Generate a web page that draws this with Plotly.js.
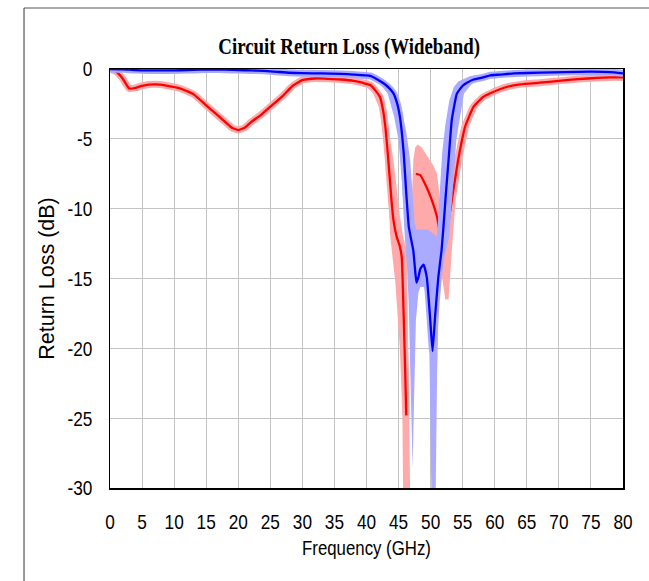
<!DOCTYPE html>
<html>
<head>
<meta charset="utf-8">
<script src="https://cdn.plot.ly/plotly-3.0.1.min.js"></script>
<style>
  html, body { margin: 0; padding: 0; background: #ffffff; }
  #chart { width: 649px; height: 581px; }
</style>
</head>
<body>
<div id="chart"></div>
<script>
// ---------- Data ----------
// Nominal red response
const redFreq = [0, 1, 2, 3, 4, 5, 7, 9, 11, 13, 15, 17, 18, 19, 20, 21, 22, 23.5, 25, 27, 28.5, 30, 32, 34, 36, 38, 39.5,
  40.6, 41.5, 42.1, 42.6, 43.0, 43.4, 43.9, 44.2, 44.7, 45.2, 45.5, 45.8, 46.0, 46.2, 46.3,
  47.7, 48.4, 49.1, 49.6, 50.2, 51.0, 51.7, 52.0, 52.5, 53.3, 54.3, 55.4, 56.7, 58.2, 59.3, 60.8,
  62, 64, 67, 70, 73, 76, 78, 80];
const redDb = [0, -0.2, -0.7, -1.4, -1.35, -1.2, -1.1, -1.2, -1.4, -1.8, -2.6, -3.4, -3.8, -4.2, -4.37, -4.2, -3.8, -3.3, -2.7, -1.9, -1.2, -0.8, -0.68, -0.7, -0.75, -0.85, -1.0,
  -1.15, -1.6, -2.0, -3.0, -4.4, -6.5, -9.4, -10.8, -12.0, -12.7, -13.5, -17.7, -21, -24.8, null,
  -7.5, -7.6, -8.2, -8.7, -9.4, -10.6, -12.5, -13.2, -11.8, -9.4, -6.5, -4.1, -2.7, -2.0, -1.74, -1.45,
  -1.27, -1.1, -0.98, -0.85, -0.72, -0.64, -0.6, -0.6];

// Nominal blue response
const blueFreq = [0, 2, 4, 6, 8, 10, 12, 14, 16, 18, 20, 22, 24, 26, 28, 30, 33, 36, 38,
  40.6, 41.7, 42.6, 43.5, 44.2, 44.8, 45.2, 45.5, 45.8, 46.2, 46.6, 47.0, 47.3, 47.6, 47.8, 48.1, 48.4, 48.9, 49.4, 49.9,
  50.3, 50.7, 51.2, 51.7, 52.0, 52.4, 52.8, 53.3, 54.1, 55.0, 55.6, 56.7, 58.2, 59.3, 60.8, 63, 67, 71, 75, 78, 80];
const blueDb = [0, -0.02, -0.08, -0.1, -0.1, -0.1, -0.08, -0.05, -0.03, -0.05, -0.08, -0.1, -0.13, -0.2, -0.27, -0.3, -0.32, -0.35, -0.4,
  -0.5, -0.75, -1.0, -1.35, -1.75, -2.5, -3.4, -4.5, -6.0, -8.9, -11.3, -12.3, -13.0, -14.5, -15.3, -14.9, -14.3, -14.0, -14.9, -17.7,
  -20.2, -17.7, -14.9, -13.0, -11.3, -8.8, -6.5, -3.65, -1.75, -1.2, -1.0, -0.75, -0.6, -0.45, -0.4, -0.32, -0.26, -0.22, -0.19, -0.22, -0.31];

// Red Monte-Carlo spread: upper and lower envelopes
const redUpFreq = [36, 40, 41, 42, 42.8, 43.4, 44.2, 44.8, 45.2, 45.7, 46.0, 46.3, 46.5, 46.7, 46.8, 46.85, 47.3, 47.6, 48.0, 48.6,
  49.6, 50.4, 51.0, 51.4, 51.7, 52.2, 52.7, 53.7, 54.8, 56.1, 57.6, 60, 63];
const redUpDb = [-0.65, -0.85, -1.1, -1.5, -2.5, -4.1, -6.5, -8.9, -10.5, -12, -12.5, -13, -20, -28, -30, -12, -6.5, -5.6, -5.4, -5.6,
  -6.3, -6.9, -7.5, -9.0, -10.6, -11.5, -9.4, -6.5, -4.1, -2.7, -2.0, -1.3, -1.05];
const redLoFreq = [36, 40, 41, 42, 42.4, 43.0, 43.4, 43.7, 44.5, 45.2, 45.6, 45.7, 46.8, 46.85, 47.3, 48.2, 49.0, 49.8, 50.5, 51.2,
  51.8, 52.3, 52.8, 53.3, 53.9, 54.9, 56.0, 57.3, 58.8, 61, 63];
const redLoDb = [-0.9, -1.3, -1.7, -2.8, -4.1, -6.5, -8.9, -12, -15.3, -20, -24.8, -30, -30, -12, -12, -12, -12, -12, -12.2, -12.8,
  -15, -16.5, -16.5, -13, -9.4, -6.5, -4.1, -2.7, -2.0, -1.5, -1.25];

// Blue Monte-Carlo spread: upper and lower envelopes
const blueUpFreq = [38, 40, 41.2, 43.0, 44.6, 45.3, 46.2, 46.8, 47.2, 47.5, 47.8, 48.5, 49.5, 50.5, 51.0, 51.4, 51.8, 52.3, 52.9, 53.6, 54.3, 56.2, 60];
const blueUpDb = [-0.3, -0.35, -0.5, -0.9, -1.75, -2.5, -4.5, -6.5, -9, -11, -11.5, -11.5, -11.5, -11.8, -12, -9, -6, -4, -2.3, -1.3, -0.9, -0.5, -0.3];
const blueLoFreq = [38, 40, 42, 43.3, 44.3, 45.0, 45.5, 45.9, 46.3, 46.6, 46.9, 47.2, 47.4, 47.7, 48.1, 48.4, 49.0, 49.5, 49.8, 50.1,
  50.8, 51.0, 51.3, 51.7, 52.3, 52.9, 53.4, 54.0, 54.6, 55.2, 56.5, 59.3, 62];
const blueLoDb = [-0.5, -0.6, -1.0, -1.75, -3.4, -5.1, -8, -11.5, -14, -17, -23, -28.6, -24, -18, -16, -15.6, -15.6, -16.5, -20, -30,
  -30, -22, -16, -14.3, -13.2, -12, -9, -5.1, -3.4, -1.75, -1.0, -0.5, -0.35];

// Axis ticks
const xTicks = [0, 5, 10, 15, 20, 25, 30, 35, 40, 45, 50, 55, 60, 65, 70, 75, 80];
const yTicks = [0, -5, -10, -15, -20, -25, -30];

// ---------- Build traces ----------
function bandPolygon(upF, upY, loF, loY) {
  return {
    x: upF.concat(loF.slice().reverse()),
    y: upY.concat(loY.slice().reverse())
  };
}
const redBand = bandPolygon(redUpFreq, redUpDb, redLoFreq, redLoDb);
const blueBand = bandPolygon(blueUpFreq, blueUpDb, blueLoFreq, blueLoDb);

const RED = '#ff0000', RED_LIGHT = '#ffaaaa';
const BLUE = '#0000ff', BLUE_LIGHT = '#aaaaff';

const traces = [
  { x: redFreq, y: redDb, mode: 'lines', line: { color: RED_LIGHT, width: 7, shape: 'spline', smoothing: 0.4 }, hoverinfo: 'skip', showlegend: false },
  { x: redBand.x, y: redBand.y, mode: 'lines', fill: 'toself', fillcolor: RED_LIGHT, line: { width: 0, color: RED_LIGHT }, hoverinfo: 'skip', showlegend: false },
  { x: redFreq, y: redDb, mode: 'lines', line: { color: RED, width: 2.3, shape: 'spline', smoothing: 0.4 }, name: 'Red', showlegend: false },
  { x: blueFreq, y: blueDb, mode: 'lines', line: { color: BLUE_LIGHT, width: 7, shape: 'spline', smoothing: 0.4 }, hoverinfo: 'skip', showlegend: false },
  { x: blueBand.x, y: blueBand.y, mode: 'lines', fill: 'toself', fillcolor: BLUE_LIGHT, line: { width: 0, color: BLUE_LIGHT }, hoverinfo: 'skip', showlegend: false },
  { x: blueFreq, y: blueDb, mode: 'lines', line: { color: BLUE, width: 2.3, shape: 'spline', smoothing: 0.4 }, name: 'Blue', showlegend: false }
];

const SANS = '"Liberation Sans", Arial, sans-serif';

const layout = {
  width: 649,
  height: 581,
  paper_bgcolor: '#ffffff',
  plot_bgcolor: '#ffffff',
  margin: { l: 110, r: 26, t: 69, b: 93, pad: 0 },
  title: {
    text: 'Circuit Return Loss (Wideband)',
    font: { family: '"Liberation Serif", "Times New Roman", serif', size: 23, color: '#000000', weight: 'bold' },
    x: 0.538, xref: 'container', xanchor: 'center',
    y: 0.921, yref: 'container', yanchor: 'middle'
  },
  xaxis: {
    range: [0, 80],
    tickvals: xTicks,
    ticktext: xTicks.map(String),
    showgrid: true, gridcolor: '#c4c4c4', gridwidth: 1,
    showline: true, linecolor: '#000000', linewidth: 1.5, mirror: true,
    ticks: '', zeroline: false,
    tickfont: { family: SANS, size: 21, color: '#000000' },
    ticklabelstandoff: 14,
    title: { text: 'Frequency (GHz)', font: { family: SANS, size: 20.5, color: '#000000' }, standoff: 9 },
    fixedrange: true
  },
  yaxis: {
    range: [-30, 0],
    tickvals: yTicks,
    ticktext: yTicks.map(String),
    showgrid: true, gridcolor: '#c4c4c4', gridwidth: 1,
    showline: true, linecolor: '#000000', linewidth: 1.5, mirror: true,
    ticks: '', zeroline: false,
    tickfont: { family: SANS, size: 21, color: '#000000' },
    ticklabelstandoff: 12,
    title: { text: 'Return Loss (dB)', font: { family: SANS, size: 21.5, color: '#000000' }, standoff: 1 },
    fixedrange: true
  },
  shapes: [
    { type: 'line', xref: 'paper', yref: 'paper', x0: -0.1676, x1: -0.1676, y0: 1.1456, y1: -0.23, line: { color: '#555555', width: 1.2 } },
    { type: 'line', xref: 'paper', yref: 'paper', x0: -0.1676, x1: 1.06, y0: 1.1456, y1: 1.1456, line: { color: '#555555', width: 1.2 } }
  ],
  showlegend: false
};

// Horizontally condense text (the reference uses narrow faces)
function condense(root, selector, s) {
  root.querySelectorAll(selector).forEach(function (el) {
    const x = parseFloat(el.getAttribute('x')) || 0;
    const t = el.getAttribute('transform') || '';
    el.setAttribute('transform', (t + ' translate(' + x + ',0) scale(' + s + ',1) translate(' + (-x) + ',0)').trim());
  });
}

const gd = document.getElementById('chart');
Plotly.newPlot(gd, traces, layout, { displayModeBar: false, staticPlot: true }).then(function () {
  condense(gd, '.xtick text', 0.82);
  condense(gd, '.ytick text', 0.82);
  condense(gd, '.g-xtitle text', 0.82);
  condense(gd, '.gtitle', 0.82);
});
</script>
</body>
</html>
